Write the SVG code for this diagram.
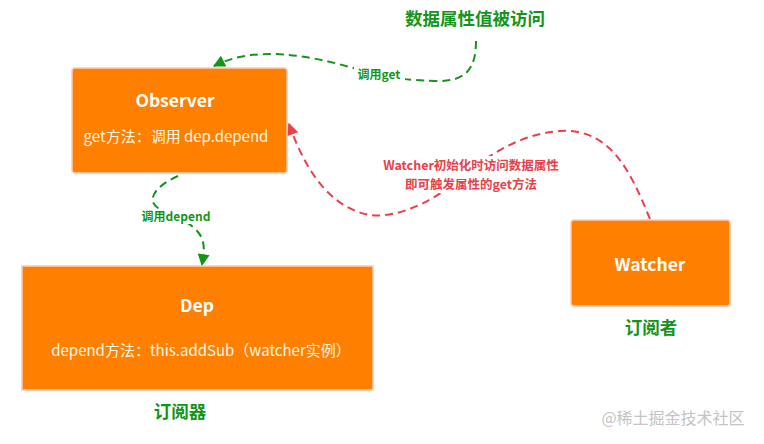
<svg xmlns="http://www.w3.org/2000/svg" width="764" height="444" viewBox="0 0 764 444">
<defs>
<style>
.box{fill:#FF8000;stroke:#FFC8B8;stroke-width:1.5}
.t{font-family:"Noto Sans CJK SC","Noto Sans",sans-serif;text-anchor:middle}
.title{font-size:17.5px;font-weight:bold;fill:#ffffff}
.sub{font-size:15px;fill:#FFF6E6}
.gl{font-size:17.5px;font-weight:bold;fill:#13951A}
.gs{font-size:12px;font-weight:bold;fill:#13951A}
.rs{font-size:12.5px;font-weight:bold;fill:#E8414A}
.g{fill:none;stroke:#13951A;stroke-width:2;stroke-dasharray:8 5}
.r{fill:none;stroke:#E8414A;stroke-width:2;stroke-dasharray:8 5}
</style>
<marker id="ag" viewBox="0 0 10 10" refX="9" refY="5" markerWidth="6.5" markerHeight="6" orient="auto" markerUnits="strokeWidth"><path d="M0,0 L10,5 L0,10 z" fill="#13951A"/></marker>
<marker id="ar" viewBox="0 0 10 10" refX="9" refY="5" markerWidth="6.5" markerHeight="6" orient="auto" markerUnits="strokeWidth"><path d="M0,0 L10,5 L0,10 z" fill="#E8414A"/></marker>
</defs>
<rect width="764" height="444" fill="#ffffff"/>
<g id="connectors">
<path class="g" d="M476,41 C476,70 465,82 435,81 C405,80 390,78 360,70 C310,55 255,45 214,66" marker-end="url(#ag)"/>
<rect x="354" y="67" width="51" height="15" fill="#ffffff"/>
<text class="t gs" x="379" y="79">调用get</text>
<path class="g" d="M178,176 C155,186 146,200 158,208 C170,215 188,220 198,232 C206,242 204,252 202,265" marker-end="url(#ag)"/>
<rect x="137" y="209" width="78" height="15" fill="#ffffff"/>
<text class="t gs" x="176" y="221">调用depend</text>
<path class="r" d="M650,219 C630,170 610,128 560,131 C510,134 470,170 445,190 C420,208 390,218 370,215 C330,208 305,170 289,124" marker-end="url(#ar)"/>
<rect x="376" y="156" width="190" height="37" fill="#ffffff"/>
<text class="t rs" x="471" y="170">Watcher初始化时访问数据属性</text>
<text class="t rs" x="471" y="188.5">即可触发属性的get方法</text>
</g>
<g id="title">
<text class="t gl" x="475" y="25">数据属性值被访问</text>
</g>
<g id="observer">
<rect class="box" x="72" y="68" width="215" height="105" rx="3"/>
<text class="t title" x="175" y="107">Observer</text>
<text class="t sub" x="176" y="142">get方法：调用 dep.depend</text>
</g>
<g id="dep">
<rect class="box" x="22" y="266" width="351" height="124"/>
<text class="t title" x="197" y="312">Dep</text>
<text class="t sub" x="201" y="356">depend方法：this.addSub（watcher实例）</text>
<text class="t gl" x="180" y="418">订阅器</text>
</g>
<g id="watcher">
<rect class="box" x="571" y="220" width="159" height="86" rx="3"/>
<text class="t title" x="650" y="271">Watcher</text>
<text class="t gl" x="651" y="334">订阅者</text>
</g>
<text class="t" x="673" y="424" style="font-size:16px;fill:#C4C4C4">@稀土掘金技术社区</text>
</svg>
